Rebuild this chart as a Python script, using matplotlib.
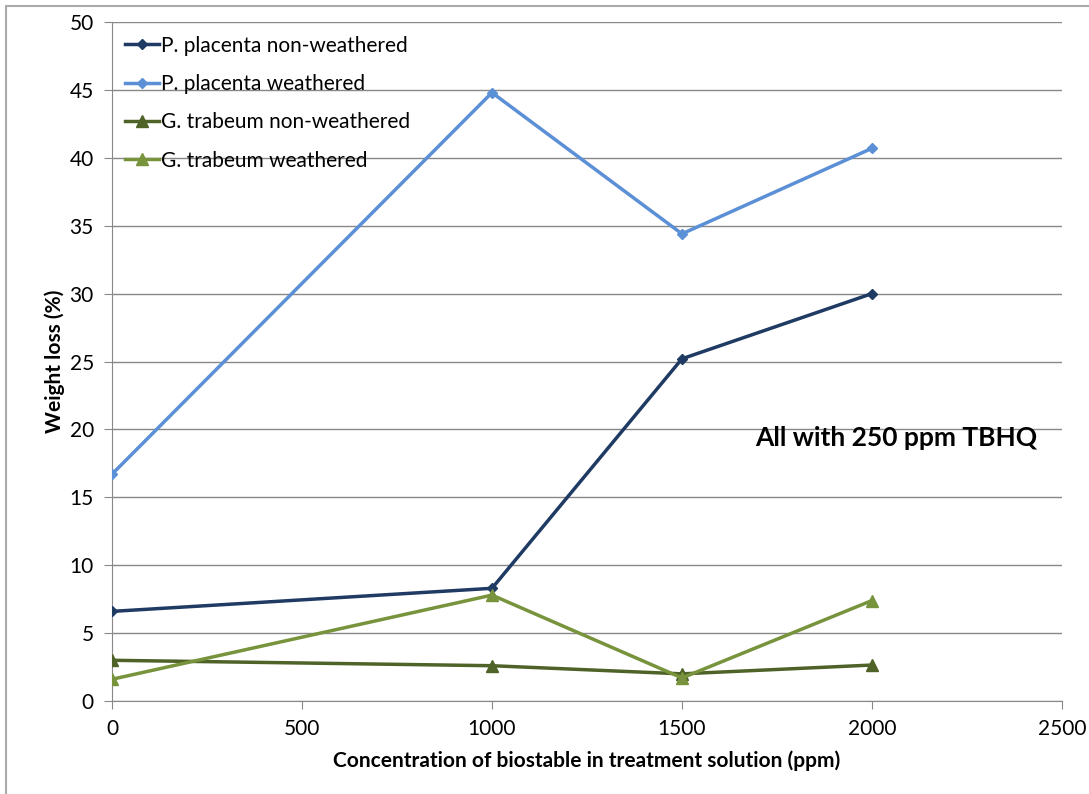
import numpy as np
import matplotlib.pyplot as plt
from matplotlib.patches import Rectangle

conc = [0, 1000, 1500, 2000]
pp_non = [6.6, 8.3, 25.2, 30.0]
pp_wea = [16.7, 44.8, 34.4, 40.7]
gt_non = [3.0, 2.6, 2.0, 2.65]
gt_wea = [1.6, 7.8, 1.7, 7.4]

labels = ['P. placenta non-weathered', 'P. placenta weathered',
          'G. trabeum non-weathered', 'G. trabeum weathered']
colors = ['#1F3A63', '#5B8FD6', '#4F6228', '#77933C']
markers = ['D', 'D', '^', '^']
series = [pp_non, pp_wea, gt_non, gt_wea]

plt.rcParams['font.family'] = ['Lato', 'DejaVu Sans']

fig = plt.figure(figsize=(10.89, 7.94), dpi=100)
ax = fig.add_axes([0.1028, 0.1171, 0.8724, 0.8552])

for vals, lab, c, m in zip(series, labels, colors, markers):
    ms = 5.5 if m == 'D' else 8
    ax.plot(conc, vals, color=c, lw=2.5, marker=m, markersize=ms, label=lab, zorder=3)

ax.set_xlim(0, 2500)
ax.set_ylim(0, 50)
ax.set_xticks(np.arange(0, 2501, 500))
ax.set_yticks(np.arange(0, 51, 5))
ax.yaxis.grid(True, color='#888888', lw=1)
ax.set_axisbelow(True)
for s in ['top', 'right']:
    ax.spines[s].set_visible(False)
for s in ['left', 'bottom']:
    ax.spines[s].set_color('#888888')
ax.tick_params(direction='out', length=6, color='#888888', labelsize=15, pad=7)

ax.set_xlabel('Concentration of biostable in treatment solution (ppm)', fontsize=15, fontweight='bold', labelpad=8)
ax.set_ylabel('Weight loss (%)', fontsize=15, fontweight='bold', labelpad=3)

ax.text(1692, 19.4, 'All with 250 ppm TBHQ', fontsize=19, fontweight='bold', va='center', ha='left')

leg = ax.legend(loc='upper left', frameon=False, fontsize=15, handlelength=1.6,
                handletextpad=0.1, labelspacing=0.88, borderaxespad=0.2,
                borderpad=0.45, bbox_to_anchor=(0.0, 1.0))

fig.patches.append(Rectangle((6 / 1089, -0.5), 2, 0.5 + 1 - 6 / 794,
                             transform=fig.transFigure, fill=False,
                             edgecolor='#AAAAAA', lw=1.5))

fig.savefig('out.png', dpi=100)
